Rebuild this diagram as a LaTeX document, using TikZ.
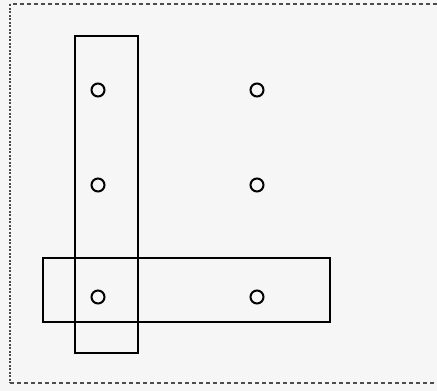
\documentclass[tikz,border=0pt]{standalone}
\begin{document}
\begin{tikzpicture}[x=1pt, y=-1pt,
    foro/.style={draw, circle, line width=2pt, minimum size=13pt, inner sep=0pt},
    barra/.style={draw, rectangle, line width=2.2pt, inner sep=0pt}]
    %sfondo e bordo
    \useasboundingbox[fill=gray!7] (0,0) rectangle (437,391);
    \draw[dash pattern=on 4pt off 3pt, line width=1.5pt, gray!60!black] (437,4)--(10,4);
    \draw[dash pattern=on 2pt off 1.5pt, line width=1.8pt, gray!60!black] (10,4)--(10,383);
    \draw[dash pattern=on 4pt off 3pt, line width=1.5pt, gray!60!black] (10,383)--(437,383);
    
    %disegno barre
    \node[barra, minimum width=63pt, minimum height=317pt] (verticale) at (106.5,194.5) {};
    \node[barra, minimum width=287pt, minimum height=64pt] (orizzontale) at (186.5,290) {};
    
    %disegno fori
    \node[foro] (a1) at (98,90) {};
    \node[foro] (b1) at (257,90) {};
    \node[foro] (a2) at (98,185) {};
    \node[foro] (b2) at (257,185) {};
    \node[foro] (a3) at (98,297) {};
    \node[foro] (b3) at (257,297) {};
    
\end{tikzpicture}
\end{document}
